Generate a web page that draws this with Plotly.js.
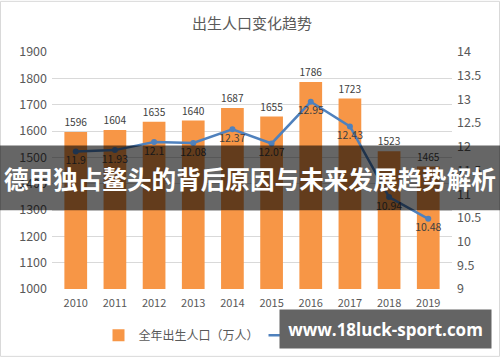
<!DOCTYPE html>
<html><head><meta charset="utf-8">
<script src="https://cdn.plot.ly/plotly-3.0.1.min.js"></script>
<style>html,body{margin:0;padding:0;background:#fff;}#chart{width:500px;height:362px;}</style>
</head><body><div id="chart"></div>
<script>
const years = ['2010','2011','2012','2013','2014','2015','2016','2017','2018','2019'];
const births = [1596,1604,1635,1640,1687,1655,1786,1723,1523,1465];
const birthRate = [11.9,11.93,12.1,12.08,12.37,12.07,12.95,12.43,10.94,10.48];
const chartTitle = '出生人口变化趋势';
const barName = '全年出生人口（万人）';
const lineName = '出生率（‰）';
const bannerText = '德甲独占鳌头的背后原因与未来发展趋势解析';
const watermark = 'www.18luck-sport.com';

const F = '"Noto Sans CJK SC", "Noto Sans", sans-serif';
const W = 400, H = 241, L = 52, T = 52;
const px = x => (x - L) / W;
const py = y => (T + H - y) / H;

const traces = [
  {type:'bar', x: years, y: births, name: barName, marker:{color:'#F79646'}, width:0.58,
   text: births.map(String), textposition:'outside', cliponaxis:false,
   textfont:{size:10.5, color:'#404040', family:F}, hoverinfo:'none'},
  {type:'scatter', mode:'lines+markers+text', x: years, y: birthRate, yaxis:'y2', name: lineName,
   line:{color:'#4F81BD', width:2.5}, marker:{color:'#4F81BD', size:6},
   text: birthRate.map(String), textposition:'bottom center', cliponaxis:false,
   textfont:{size:10.5, color:'#404040', family:F}, hoverinfo:'none'}
];
const layout = {
  width:500, height:362, margin:{l:L, r:500-L-W, t:T, b:362-T-H},
  paper_bgcolor:'#fff', plot_bgcolor:'#fff',
  font:{family:F, color:'#595959', size:12},
  title:{text:chartTitle, x:0.5, xref:'paper', y:1-24/362, yanchor:'middle', font:{size:15, color:'#595959', family:F}},
  bargap:0.42,
  xaxis:{type:'category', showgrid:false, zeroline:false, showline:false, ticks:'', tickfont:{size:11, color:'#595959'}, ticklabelstandoff:6},
  yaxis:{range:[1000,1900], dtick:100, gridcolor:'#d9d9d9', gridwidth:1, zeroline:false, showline:false, tickfont:{size:12.5, color:'#595959'}, ticklabelstandoff:4},
  yaxis2:{range:[9,14], dtick:0.5, overlaying:'y', side:'right', showgrid:false, zeroline:false, showline:false, tickfont:{size:12.5, color:'#595959'}, ticklabelstandoff:4},
  showlegend:true,
  legend:{orientation:'h', x:0.47, xanchor:'center', y:py(340), yanchor:'middle', font:{size:12, color:'#595959'}, bgcolor:'rgba(0,0,0,0)'},
  shapes:[
    {type:'rect', xref:'paper', yref:'paper', x0:px(0.5), x1:px(499.5), y0:py(361.5), y1:py(0.5), line:{color:'#d9d9d9', width:1}, fillcolor:'rgba(0,0,0,0)', layer:'below'},
    {type:'rect', xref:'paper', yref:'paper', x0:px(0), x1:px(500), y0:py(213), y1:py(147), line:{width:0}, fillcolor:'rgba(0,0,0,0.6)', layer:'above'}
  ],
  annotations:[
    {xref:'paper', yref:'paper', x:px(250), y:py(180), xanchor:'center', yanchor:'middle', showarrow:false,
     text:'<b>'+bannerText+'</b>', font:{size:24.6, color:'#fff', family:F}},
    {xref:'paper', yref:'paper', x:px(385.5), y:py(334), xanchor:'center', yanchor:'middle', showarrow:false,
     text:'<b>'+watermark+'</b>', font:{size:17, color:'#fff', family:'"Open Sans", "Noto Sans", sans-serif'},
     bgcolor:'rgb(100,100,100)', width:203, height:30, borderpad:4}
  ]
};
Plotly.newPlot('chart', traces, layout, {staticPlot:true, displayModeBar:false});
</script></body></html>
